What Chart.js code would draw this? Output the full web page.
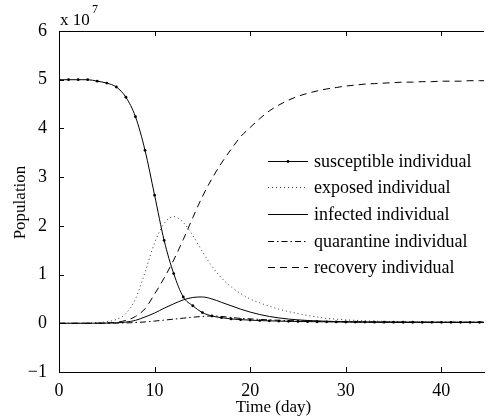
<!DOCTYPE html>
<html><head><meta charset="utf-8">
<script src="https://cdn.jsdelivr.net/npm/chart.js@4/dist/chart.umd.min.js"></script>
<style>html,body{margin:0;padding:0;background:#fff;overflow:hidden}#wrap{width:488px;height:417px;position:relative}</style>
</head><body><div id="wrap"><canvas id="c" width="488" height="417"></canvas></div>
<script>
// Values in units of 10^7
const days = [0,1,2,3,4,5,6,7,8,9,10,11,12,13,14,15,16,17,18,19,20,21,22,23,24,25,26,27,28,29,30,31,32,33,34,35,36,37,38,39,40,41,42,43,44,45];
const susceptible = [5.00,5.00,5.00,5.00,4.97,4.93,4.85,4.64,4.24,3.55,2.63,1.70,1.02,0.54,0.36,0.22,0.15,0.115,0.09,0.075,0.065,0.056,0.05,0.045,0.04,0.037,0.034,0.032,0.03,0.028,0.026,0.025,0.024,0.023,0.022,0.022,0.021,0.021,0.02,0.02,0.02,0.02,0.02,0.02,0.02,0.02];
const exposed = [0,0,0.001,0.004,0.012,0.03,0.08,0.2,0.5,1.05,1.65,2.05,2.19,2.07,1.8,1.47,1.17,0.93,0.75,0.61,0.5,0.42,0.35,0.29,0.24,0.2,0.16,0.13,0.1,0.085,0.07,0.06,0.05,0.045,0.04,0.035,0.032,0.03,0.028,0.026,0.025,0.024,0.023,0.022,0.022,0.021];
const infected = [0,0,0,0.001,0.002,0.005,0.01,0.025,0.06,0.13,0.21,0.31,0.4,0.48,0.53,0.54,0.5,0.43,0.36,0.29,0.23,0.18,0.14,0.11,0.087,0.07,0.058,0.049,0.042,0.036,0.032,0.029,0.027,0.025,0.024,0.023,0.022,0.022,0.021,0.021,0.02,0.02,0.02,0.02,0.02,0.02];
const quarantine = [0,0,0,0,0.001,0.002,0.004,0.008,0.016,0.028,0.045,0.065,0.085,0.105,0.125,0.14,0.15,0.14,0.12,0.1,0.09,0.08,0.07,0.062,0.055,0.05,0.045,0.04,0.036,0.033,0.03,0.028,0.026,0.025,0.024,0.023,0.022,0.022,0.021,0.021,0.02,0.02,0.02,0.02,0.02,0.02];
const recovery = [0,0,0,0,0.002,0.006,0.02,0.06,0.14,0.3,0.6,0.93,1.3,1.72,2.17,2.6,2.97,3.29,3.57,3.83,4.02,4.2,4.36,4.48,4.58,4.66,4.72,4.77,4.81,4.84,4.87,4.89,4.91,4.92,4.93,4.94,4.95,4.95,4.96,4.96,4.97,4.97,4.97,4.98,4.98,4.98];
const seriesLabels = ['susceptible individual','exposed individual','infected individual','quarantine individual','recovery individual'];
const xTicks = [0,10,20,30,40];
const yTicks = [-1,0,1,2,3,4,5,6];
const xTitle = 'Time (day)';
const yTitle = 'Population';

const FONT = '"Liberation Serif","Times New Roman",serif';
function pts(arr){ return arr.map((v,i)=>({x:days[i], y:v})); }
const base = {borderColor:'#000', backgroundColor:'#000', borderWidth:1, pointRadius:0, fill:false, cubicInterpolationMode:'monotone'};

const datasets = [
  Object.assign({}, base, {label:seriesLabels[0], data:pts(susceptible), pointRadius:1.4, pointBorderWidth:0, pointBackgroundColor:'#000'}),
  Object.assign({}, base, {label:seriesLabels[1], data:pts(exposed), borderDash:[1,3], borderColor:'#333'}),
  Object.assign({}, base, {label:seriesLabels[2], data:pts(infected)}),
  Object.assign({}, base, {label:seriesLabels[3], data:pts(quarantine), borderDash:[6,3,1.5,3]}),
  Object.assign({}, base, {label:seriesLabels[4], data:pts(recovery), borderDash:[7,5]})
];

const deco = {
  id:'deco',
  afterDraw(chart){
    const ctx = chart.ctx, a = chart.chartArea;
    const xs = chart.scales.x, ys = chart.scales.y;
    ctx.save();
    ctx.strokeStyle = '#000'; ctx.lineWidth = 1; ctx.setLineDash([]);
    ctx.beginPath(); ctx.moveTo(a.left, a.top+0.5); ctx.lineTo(a.right, a.top+0.5); ctx.stroke();
    ctx.beginPath();
    xTicks.forEach(v=>{
      const px = Math.round(xs.getPixelForValue(v))+0.5;
      ctx.moveTo(px, a.bottom); ctx.lineTo(px, a.bottom-5);
      ctx.moveTo(px, a.top); ctx.lineTo(px, a.top+5);
    });
    yTicks.forEach(v=>{
      const py = Math.round(ys.getPixelForValue(v))+0.5;
      ctx.moveTo(a.left, py); ctx.lineTo(a.left+5, py);
    });
    ctx.stroke();
    ctx.fillStyle = '#000';
    ctx.font = '17px ' + FONT;
    ctx.textAlign = 'center'; ctx.textBaseline = 'alphabetic';
    ctx.fillText(xTitle, (a.left+a.right)/2 + 2, 412);
    ctx.save();
    ctx.translate(25, (a.top+a.bottom)/2 + 1);
    ctx.rotate(-Math.PI/2);
    ctx.fillText(yTitle, 0, 0);
    ctx.restore();
    ctx.textAlign = 'left';
    ctx.font = '17px ' + FONT;
    ctx.fillText('x 10', 60, 25);
    ctx.font = '12px ' + FONT;
    ctx.fillText('7', 92, 13);
    ctx.font = '18px ' + FONT;
    chart.data.datasets.forEach((ds,i)=>{
      const y = 160.7 + 26.65*i;
      const yl = Math.round(y)+0.5;
      ctx.strokeStyle = ds.borderColor;
      ctx.setLineDash(ds.borderDash || []);
      ctx.beginPath(); ctx.moveTo(268, yl); ctx.lineTo(308, yl); ctx.stroke();
      ctx.setLineDash([]);
      if (ds.pointRadius > 0){
        ctx.beginPath(); ctx.arc(288, yl, ds.pointRadius, 0, Math.PI*2); ctx.fill();
      }
      ctx.fillStyle = '#000';
      ctx.fillText(ds.label, 314, y + 6);
    });
    ctx.restore();
  }
};

new Chart(document.getElementById('c'), {
  type:'line',
  data:{datasets},
  options:{
    responsive:false, animation:false,
    layout:{padding:{top:31,left:0,right:0,bottom:0}},
    plugins:{legend:{display:false}, tooltip:{enabled:false}},
    scales:{
      x:{type:'linear', min:0, max:44.46,
        afterBuildTicks:s=>{s.ticks = xTicks.map(v=>({value:v}));},
        afterFit:s=>{s.height = 45;},
        grid:{display:false}, border:{display:true,color:'#000',width:1},
        ticks:{color:'#000', font:{family:FONT,size:18}, padding:0, maxRotation:0, autoSkip:false}},
      y:{type:'linear', min:-1, max:6,
        afterBuildTicks:s=>{s.ticks = yTicks.map(v=>({value:v}));},
        afterFit:s=>{s.width = 59;},
        grid:{display:false}, border:{display:true,color:'#000',width:1},
        ticks:{color:'#000', font:{family:FONT,size:18}, padding:4, autoSkip:false,
          callback:v=> (v<0 ? '\u2212'+Math.abs(v) : String(v))}}
    }
  },
  plugins:[deco]
});
</script></body></html>
